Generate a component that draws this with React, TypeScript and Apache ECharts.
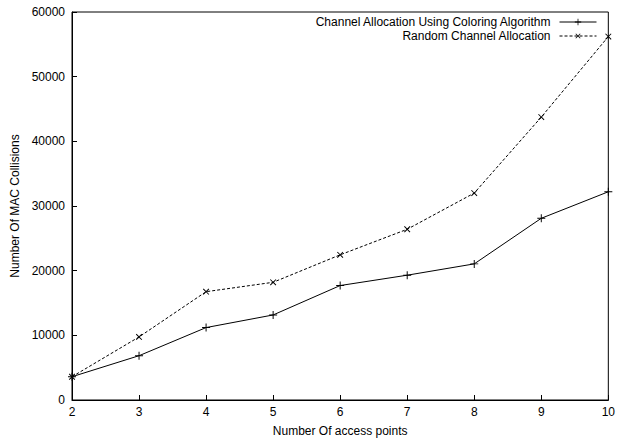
import React, { useEffect, useRef } from "react";
import * as echarts from "echarts";

const accessPoints = [2, 3, 4, 5, 6, 7, 8, 9, 10];
const coloringValues = [3600, 6850, 11200, 13150, 17700, 19300, 21050, 28100, 32200];
const randomValues = [3600, 9750, 16750, 18200, 22450, 26400, 32000, 43750, 56200];
const seriesNames = ["Channel Allocation Using Coloring Algorithm", "Random Channel Allocation"];
const yTicks = [0, 10000, 20000, 30000, 40000, 50000, 60000];

const plusPath = "path://M4.4,0H5.6V4.4H10V5.6H5.6V10H4.4V5.6H0V4.4H4.4Z";

export default function App() {
  const ref = useRef<HTMLDivElement>(null);
  useEffect(() => {
    if (!ref.current) return;
    const chart = echarts.init(ref.current, undefined, { renderer: "svg" });
    const font = "Liberation Sans, Arial, Helvetica, sans-serif";
    chart.setOption({
      animation: false,
      textStyle: { fontFamily: font, color: "#000" },
      grid: { left: 72, right: 6, top: 12, bottom: 41, show: true, borderColor: "#000", borderWidth: 1, backgroundColor: "transparent" },
      legend: {
        orient: "vertical",
        right: 21,
        top: 16,
        padding: 0,
        align: "right",
        itemWidth: 37,
        itemHeight: 8,
        itemGap: 2,
        textStyle: { fontSize: 12, lineHeight: 12, color: "#000", fontFamily: font, padding: [0, 4, 0, 0] },
        data: [
          { name: seriesNames[0], lineStyle: { width: 1, type: "solid", color: "#000" } },
          { name: seriesNames[1], lineStyle: { width: 1, type: [3, 2], color: "#000" } },
        ],
      },
      xAxis: {
        type: "value",
        min: 2,
        max: 10,
        interval: 1,
        name: "Number Of access points",
        nameLocation: "middle",
        nameGap: 25,
        nameTextStyle: { fontSize: 12, color: "#000" },
        axisLine: { lineStyle: { color: "#000", width: 1 } },
        axisTick: { inside: true, length: 5, lineStyle: { color: "#000" } },
        axisLabel: { fontSize: 12, color: "#000", margin: 6 },
        splitLine: { show: false },
      },
      yAxis: {
        type: "value",
        min: 0,
        max: yTicks[yTicks.length - 1],
        interval: 10000,
        name: "Number Of MAC Collisions",
        nameLocation: "middle",
        nameGap: 51,
        nameTextStyle: { fontSize: 12, color: "#000" },
        axisLine: { show: true, lineStyle: { color: "#000", width: 1 } },
        axisTick: { show: true, inside: true, length: 5, lineStyle: { color: "#000" } },
        axisLabel: { fontSize: 12, color: "#000", margin: 7, formatter: (v: number) => String(v) },
        splitLine: { show: false },
      },
      series: [
        {
          name: seriesNames[0],
          type: "line",
          data: accessPoints.map((x, i) => [x, coloringValues[i]]),
          symbol: plusPath,
          symbolSize: 8,
          itemStyle: { color: "#000" },
          lineStyle: { color: "#000", width: 1, type: "solid" },
        },
        {
          name: seriesNames[1],
          type: "line",
          data: accessPoints.map((x, i) => [x, randomValues[i]]),
          symbol: plusPath,
          symbolSize: 8,
          symbolRotate: 45,
          itemStyle: { color: "#000" },
          lineStyle: { color: "#000", width: 1, type: [3, 2] },
        },
      ],
    });
    return () => chart.dispose();
  }, []);
  return <div ref={ref} style={{ width: 618, height: 442, position: "absolute", left: 0, top: 0, background: "#fff" }} />;
}
